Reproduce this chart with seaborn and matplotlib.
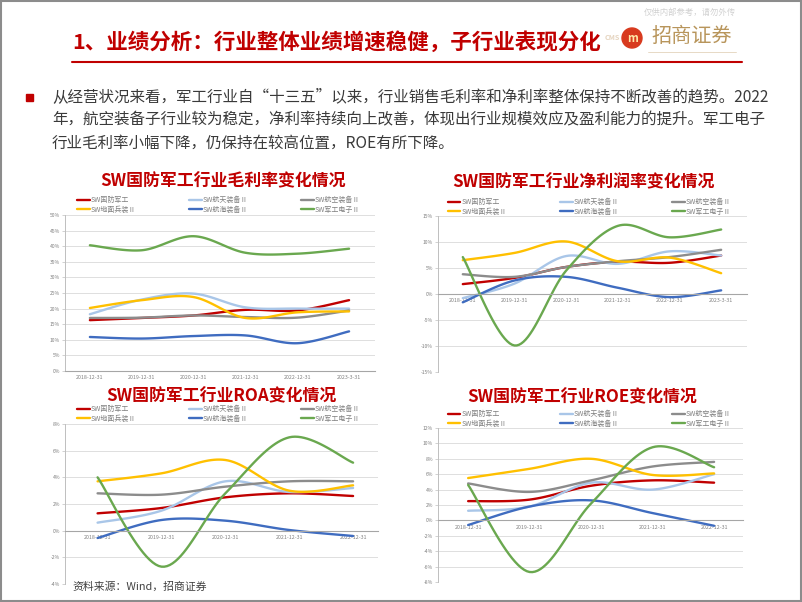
import numpy as np
import pandas as pd
import matplotlib
matplotlib.use("Agg")
import matplotlib.pyplot as plt
import seaborn as sns
from matplotlib.patches import Rectangle, Ellipse
from matplotlib.lines import Line2D

# 基本设置
sns.set_theme(style="white")
plt.rcParams['font.family'] = ['Noto Sans CJK SC', 'DejaVu Sans']
plt.rcParams['axes.unicode_minus'] = False

W, H = 802, 602

# 系列名称与颜色
series = ['SW国防军工', 'SW航天装备Ⅱ', 'SW航空装备Ⅱ', 'SW地面兵装Ⅱ', 'SW航海装备Ⅱ', 'SW军工电子Ⅱ']
colors = ['#C00000', '#A9C6E8', '#8C8C8C', '#FFC000', '#3F6CC0', '#6AA84F']

dates6 = ['2018-12-31', '2019-12-31', '2020-12-31', '2021-12-31', '2022-12-31', '2023-3-31']
dates5 = dates6[:5]

# 毛利率 (%)
gm_jungong = [16.3, 17.0, 17.8, 19.6, 19.4, 22.7]
gm_hangtian = [18.2, 22.9, 24.8, 20.4, 20.0, 20.0]
gm_hangkong = [17.0, 17.1, 17.8, 17.3, 17.1, 19.4]
gm_dimian = [20.2, 22.7, 23.7, 17.0, 18.8, 19.1]
gm_hanghai = [10.9, 10.4, 11.2, 11.4, 8.9, 12.7]
gm_dianzi = [40.3, 38.7, 43.2, 37.9, 37.6, 39.2]

# 净利润率 (%)
nm_jungong = [1.9, 3.1, 5.2, 6.2, 6.0, 7.4]
nm_hangtian = [-0.8, 2.0, 7.3, 5.8, 8.2, 7.4]
nm_hangkong = [3.8, 3.3, 5.2, 6.3, 7.1, 8.5]
nm_dimian = [6.5, 7.9, 10.1, 6.3, 7.0, 4.0]
nm_hanghai = [-1.6, 2.6, 3.3, 1.2, -0.6, 0.7]
nm_dianzi = [7.1, -9.9, 4.5, 13.1, 10.9, 12.4]

# ROA (%)
roa_jungong = [1.3, 1.7, 2.5, 2.8, 2.6]
roa_hangtian = [0.6, 1.5, 3.7, 2.9, 3.2]
roa_hangkong = [2.8, 2.7, 3.3, 3.7, 3.7]
roa_dimian = [3.7, 4.3, 5.3, 3.0, 3.4]
roa_hanghai = [-0.55, 0.8, 0.75, 0.05, -0.4]
roa_dianzi = [4.0, -2.7, 2.8, 7.0, 5.1]

# ROE (%)
roe_jungong = [2.5, 2.7, 4.5, 5.2, 4.9]
roe_hangtian = [1.25, 1.8, 4.9, 4.0, 6.0]
roe_hangkong = [4.8, 3.7, 5.2, 7.0, 7.6]
roe_dimian = [5.5, 6.7, 8.0, 5.9, 6.1]
roe_hanghai = [-0.6, 1.8, 2.6, 0.95, -0.7]
roe_dianzi = [4.6, -6.7, 2.2, 9.5, 6.9]

fig = plt.figure(figsize=(W / 100, H / 100), dpi=100)
fig.patch.set_facecolor('white')


def fx(x):
    return x / W


def fy(y):
    return 1 - y / H


def rect(l, t, r, b):
    return [fx(l), fy(b), (r - l) / W, (b - t) / H]


def smooth(vals, n=24):
    # 类似Excel平滑线的贝塞尔曲线
    y = np.asarray(vals, float)
    x = np.arange(len(y), dtype=float)
    xs, ys = [], []
    for i in range(len(y) - 1):
        p0 = max(i - 1, 0)
        p3 = min(i + 2, len(y) - 1)
        c1 = (x[i] + (x[i + 1] - x[p0]) / 6, y[i] + (y[i + 1] - y[p0]) / 6)
        c2 = (x[i + 1] - (x[p3] - x[i]) / 6, y[i + 1] - (y[p3] - y[i]) / 6)
        t = np.linspace(0, 1, n)
        a, b, c, d = (1 - t) ** 3, 3 * (1 - t) ** 2 * t, 3 * (1 - t) * t ** 2, t ** 3
        xs.extend(a * x[i] + b * c1[0] + c * c2[0] + d * x[i + 1])
        ys.extend(a * y[i] + b * c1[1] + c * c2[1] + d * y[i + 1])
    return np.array(xs), np.array(ys)


def draw_chart(box, title, title_pos, legend_pos, dates, data, ylim, ystep, xlim):
    ax = fig.add_axes(rect(*box))
    frames = []
    for name, vals in zip(series, data):
        xs, ys = smooth(vals)
        frames.append(pd.DataFrame({'x': xs, 'y': ys, 'series': name}))
    df = pd.concat(frames, ignore_index=True)
    sns.lineplot(data=df, x='x', y='y', hue='series', hue_order=series,
                 palette=colors, linewidth=1.7, sort=False, estimator=None,
                 legend=False, ax=ax)
    ax.set_xlim(*xlim)
    ax.set_ylim(*ylim)
    ax.set_xlabel('')
    ax.set_ylabel('')
    ax.set_xticks(range(len(dates)))
    ax.set_xticklabels(dates)
    yt = np.arange(ylim[0], ylim[1] + 0.01, ystep)
    ax.set_yticks(yt)
    ax.set_yticklabels([f'{v:g}%' for v in yt])
    ax.yaxis.grid(True, color='#D9D9D9', linewidth=0.6)
    ax.set_axisbelow(True)
    for s in ['top', 'right']:
        ax.spines[s].set_visible(False)
    ax.spines['left'].set_color('#BFBFBF')
    ax.spines['left'].set_linewidth(0.7)
    ax.spines['bottom'].set_position(('data', 0))
    ax.spines['bottom'].set_color('#A6A6A6')
    ax.spines['bottom'].set_linewidth(0.8)
    ax.tick_params(axis='y', labelsize=3.6, labelcolor='#808080', length=2,
                   width=0.5, color='#BFBFBF', pad=1.5, left=True)
    ax.tick_params(axis='x', labelsize=3.8, labelcolor='#808080', length=0, pad=3)
    ax.patch.set_alpha(0)

    fig.text(fx(title_pos[0]), fy(title_pos[1]), title, ha='center', va='center',
             fontsize=12.2, fontweight='bold', color='#C00000')

    handles = [Line2D([], [], color=c, lw=1.7) for c in colors]
    order = [0, 3, 1, 4, 2, 5]
    fig.legend([handles[i] for i in order], [series[i] for i in order], ncol=3,
               loc='upper left', bbox_to_anchor=(fx(legend_pos[0]), fy(legend_pos[1])),
               frameon=False, fontsize=5, handlelength=1.8, handletextpad=0.2,
               columnspacing=7.6, labelspacing=0.25, borderpad=0, borderaxespad=0,
               labelcolor='#7F7F7F')
    return ax


draw_chart((65, 215, 375, 371), 'SW国防军工行业毛利率变化情况', (223, 181), (77, 196),
           dates6, [gm_jungong, gm_hangtian, gm_hangkong, gm_dimian, gm_hanghai, gm_dianzi],
           (0, 50), 5, (-0.48, 5.5))
draw_chart((438, 216, 747, 372), 'SW国防军工行业净利润率变化情况', (583, 182), (448, 198),
           dates6, [nm_jungong, nm_hangtian, nm_hangkong, nm_dimian, nm_hanghai, nm_dianzi],
           (-15, 15), 5, (-0.48, 5.5))
draw_chart((65, 424, 378, 584), 'SW国防军工行业ROA变化情况', (221, 396), (77, 405),
           dates5, [roa_jungong, roa_hangtian, roa_hangkong, roa_dimian, roa_hanghai, roa_dianzi],
           (-4, 8), 2, (-0.51, 4.39))
draw_chart((438, 428, 743, 582), 'SW国防军工行业ROE变化情况', (582, 397), (448, 410),
           dates5, [roe_jungong, roe_hangtian, roe_hangkong, roe_dimian, roe_hanghai, roe_dianzi],
           (-8, 12), 2, (-0.49, 4.47))

# 页面标题与装饰
fig.text(fx(72), fy(42), '1、业绩分析：行业整体业绩增速稳健，子行业表现分化',
         fontsize=15.5, fontweight='bold', color='#C00000', va='center')
fig.text(fx(612), fy(38), 'CMS', fontsize=5.2, fontweight='bold', color='#E6D5C0',
         ha='center', va='center')
fig.add_artist(Line2D([fx(72), fx(742)], [fy(62), fy(62)], color='#C00000', lw=1.5))
fig.add_artist(Ellipse((fx(632), fy(38)), 20 / W, 20 / H, color='#D83A1E'))
fig.text(fx(632), fy(38.5), 'm', fontsize=8, fontstyle='italic', fontweight='bold',
         color='#FFE9A8', ha='center', va='center')
fig.text(fx(692), fy(37), '招商证券', fontsize=14.5, color='#B8955B', ha='center', va='center')
fig.add_artist(Line2D([fx(648), fx(736)], [fy(52), fy(52)], color='#E3D3BC', lw=0.6))
fig.text(fx(690), fy(12), '仅供内部参考，请勿外传', fontsize=6, color='#D0D0D0',
         ha='center', va='center')

# 正文
fig.add_artist(Rectangle((fx(26), fy(101)), 7 / W, 7 / H, color='#C00000'))
body = ['从经营状况来看，军工行业自“十三五”以来，行业销售毛利率和净利率整体保持不断改善的趋势。2022',
        '年，航空装备子行业较为稳定，净利率持续向上改善，体现出行业规模效应及盈利能力的提升。军工电子',
        '行业毛利率小幅下降，仍保持在较高位置，ROE有所下降。']
for i, line in enumerate(body):
    fig.text(fx(52), fy(97 + 23 * i), line, fontsize=11.2, color='#3A3A3A', va='center')

fig.text(fx(72), fy(587), '资料来源：Wind，招商证券', fontsize=7.8, color='#404040', va='center')

# 边框
fig.add_artist(Rectangle((0.001, 0.002), 0.998, 0.996, transform=fig.transFigure,
                         fill=False, edgecolor='#8C8C8C', lw=1.5))

fig.savefig('out.png', dpi=100)
